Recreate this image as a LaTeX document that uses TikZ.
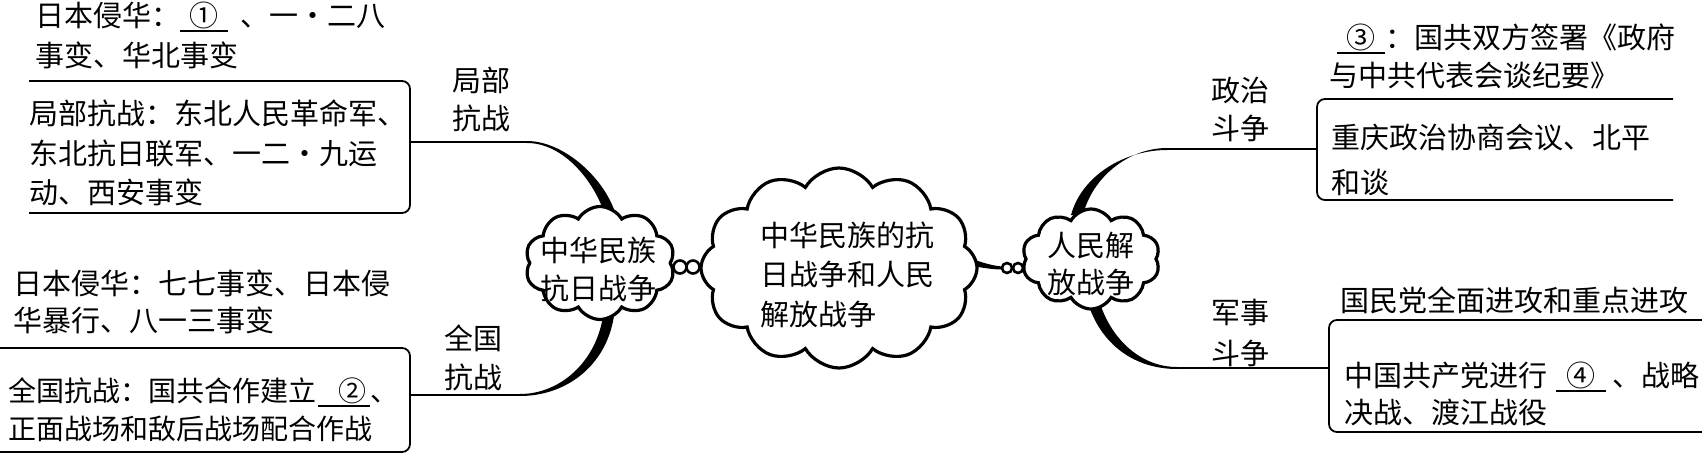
\documentclass[tikz,border=0pt]{standalone}
\usepackage{fontspec}
\setmainfont{Noto Sans CJK SC}
\usetikzlibrary{shapes.symbols,calc}
\newcommand\fs{\fontsize{14.5pt}{19pt}\selectfont}
\newcommand\fss{\fontsize{14pt}{19pt}\selectfont}
\newcommand\ublank[2]{\rlap{\rule[-3pt]{#1}{0.9pt}}\makebox[#1]{#2}}
\begin{document}
\begin{tikzpicture}[x=0.5pt,y=-0.5pt,
  txt/.style={anchor=base west,inner sep=0pt,font=\fs},
  txts/.style={anchor=base west,inner sep=0pt,font=\fss},
  lbl/.style={anchor=base,inner sep=0pt,font=\fs},
  boxline/.style={line width=0.9pt,rounded corners=4pt},
  conn/.style={line width=0.9pt},
  cloudnode/.style={cloud,cloud puffs=#1,cloud puff arc=120,cloud ignores aspect,draw,fill=white,line width=1.6pt,inner sep=0pt},
  bubble/.style={circle,draw,fill=white,line width=1.3pt,inner sep=0pt,minimum size=#1},
  taper/.style={fill=black}]
\useasboundingbox (0,0) rectangle (1702,455);

% ---------- coordinates ----------
\coordinate (p1) at (410,142); \coordinate (j1) at (527,142); \coordinate (e1) at (610,212);
\coordinate (p2) at (410,395); \coordinate (j2) at (520,395); \coordinate (e2) at (608,316);
\coordinate (p3) at (1317,149); \coordinate (j3) at (1167,149); \coordinate (e3) at (1077,215);
\coordinate (p4) at (1329,368); \coordinate (j4) at (1177,368); \coordinate (e4) at (1093,300);
\coordinate (e5) at (950,257);

% ---------- boxes ----------
\draw[boxline] (29,81) -- (410,81) -- (410,213) -- (29,213);
\draw[boxline] (0,348) -- (410,348) -- (410,452) -- (0,452);
\draw[boxline] (1673,99) -- (1317,99) -- (1317,200) -- (1673,200);
\draw[boxline] (1702,320) -- (1329,320) -- (1329,432) -- (1702,432);

% ---------- connectors ----------
\draw[conn] (p1) -- (j1);
\fill[taper] ($(j1)+(0,-1)$) .. controls +(35,0) and +(-13,-37) .. ($(e1)+(5,0)$) -- ($(e1)+(-6,0)$) .. controls +(-12,-34) and +(35,0) .. ($(j1)+(0,1)$) -- cycle;
\draw[conn] (p2) -- (j2);
\fill[taper] ($(j2)+(0,-1)$) .. controls +(40,0) and +(-7,46) .. ($(e2)+(-5,0)$) -- ($(e2)+(6,0)$) .. controls +(-8,51) and +(45,0) .. ($(j2)+(0,1)$) -- cycle;
\draw[conn] (p3) -- (j3);
\fill[taper] ($(j3)+(0,-1)$) .. controls +(-39,0) and +(9,-37) .. ($(e3)+(6,0)$) -- ($(e3)+(-6,0)$) .. controls +(11,-40) and +(-42,0) .. ($(j3)+(0,1)$) -- cycle;
\draw[conn] (p4) -- (j4);
\fill[taper] ($(j4)+(0,-1)$) .. controls +(-37,0) and +(11,38) .. ($(e4)+(6,0)$) -- ($(e4)+(-6,0)$) .. controls +(13,45) and +(-42,0) .. ($(j4)+(0,1)$) -- cycle;

% ---------- bubble connector ----------
\coordinate (b3c) at (1007,268);
\fill[taper] ($(e5)+(0,-5)$) .. controls +(22,6) and +(-17,-1) .. ($(b3c)+(-4,-1.5)$) -- ($(b3c)+(-4,1.5)$) .. controls +(-17,0) and +(20,3) .. ($(e5)+(0,5)$) -- cycle;

% ---------- clouds ----------
\node[cloudnode=10,minimum width=75pt,minimum height=56.5pt] (cl) at (600,263) {};
\node[cloudnode=12,minimum width=138pt,minimum height=100pt] (cc) at (839,268) {};
\node[cloudnode=10,minimum width=69pt,minimum height=50pt] (cr) at (1091,259) {};

\node[bubble=6.5pt] (b1) at (680,267) {};
\node[bubble=6.5pt] (b2) at (693,267) {};
\draw[line width=2pt] (b2.east) -- (cc.west);
\node[bubble=5pt] (b3) at (b3c) {};
\node[bubble=5pt] (b4) at (1018,268) {};

% ---------- cloud texts ----------
\node[lbl] (cl1) at (598,261) {中华民族};
\node[lbl] (cl2) at (598,299) {抗日战争};
\node[txt] (cc1) at (760,246) {中华民族的抗};
\node[txt] (cc2) at (760,285) {日战争和人民};
\node[txt] (cc3) at (760,325) {解放战争};
\node[txt] (cr1) at (1047,256) {人民解};
\node[txt] (cr2) at (1047,293) {放战争};

% ---------- branch labels ----------
\node[lbl] (l1a) at (481,91) {局部};
\node[lbl] (l1b) at (481,129) {抗战};
\node[lbl] (l2a) at (473,349) {全国};
\node[lbl] (l2b) at (473,388) {抗战};
\node[lbl] (l3a) at (1240,101) {政治};
\node[lbl] (l3b) at (1240,139) {斗争};
\node[lbl] (l4a) at (1240,323) {军事};
\node[lbl] (l4b) at (1240,364) {斗争};

% ---------- left texts ----------
\node[txt] (a1) at (35,26) {日本侵华：\ublank{24pt}{①}\hspace{6pt}、一・二八};
\node[txt] (a2) at (35,66) {事变、华北事变};
\node[txt] (a3) at (29,124) {局部抗战：东北人民革命军、};
\node[txt] (a4) at (29,164) {东北抗日联军、一二・九运};
\node[txt] (a5) at (29,203) {动、西安事变};
\node[txt] (a6) at (13,294) {日本侵华：七七事变、日本侵};
\node[txt] (a7) at (13,331) {华暴行、八一三事变};
\node[txts] (a8) at (8,401) {全国抗战：国共合作建立\hspace{1pt}\ublank{26pt}{\hspace{8pt}②}、};
\node[txts] (a9) at (8,439) {正面战场和敌后战场配合作战};

% ---------- right texts ----------
\node[txt] (r1) at (1337,48) {\ublank{24pt}{③}：国共双方签署《政府};
\node[txt] (r2) at (1329,86) {与中共代表会谈纪要》};
\node[txt] (r3) at (1331,148) {重庆政治协商会议、北平};
\node[txt] (r4) at (1331,193) {和谈};
\node[txt] (r5) at (1340,311) {国民党全面进攻和重点进攻};
\node[txt] (r6) at (1344,386) {中国共产党进行\hspace{4.5pt}\ublank{25pt}{④}\hspace{3pt}、战略};
\node[txt] (r7) at (1344,423) {决战、渡江战役};
\end{tikzpicture}
\end{document}
